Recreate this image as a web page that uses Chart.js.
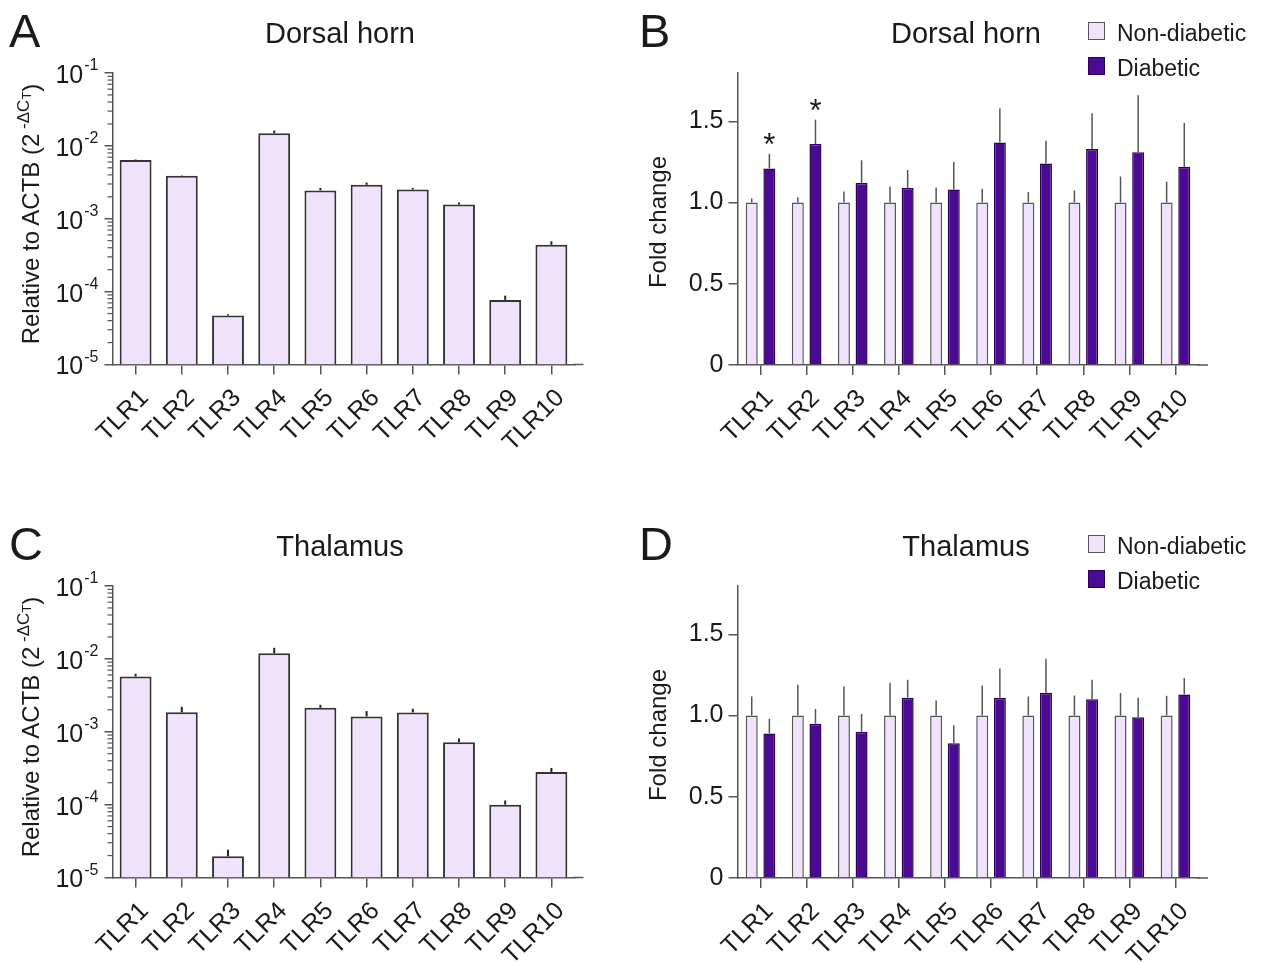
<!DOCTYPE html>
<html>
<head>
<meta charset="utf-8">
<title>TLR expression</title>
<script src="https://cdn.jsdelivr.net/npm/chart.js@4.4.1/dist/chart.umd.min.js"></script>
<style>
  html, body { margin: 0; padding: 0; background: #fff; overflow: hidden; }
  body { width: 1266px; height: 963px; position: relative; font-family: "Liberation Sans", Arial, sans-serif; color: #1a1a1a; }
  .panel { position: absolute; width: 636px; height: 480px; }
  .panel canvas { position: absolute; left: 0; top: 0; }
  .letter { position: absolute; font-size: 47px; line-height: 1; }
  .title { position: absolute; font-size: 29px; line-height: 1; white-space: nowrap; transform: translateX(-50%); }
  .ylab { position: absolute; font-size: 24px; line-height: 1; white-space: nowrap; transform: translate(-50%, -50%) rotate(-90deg); }
  .ylab .sup { font-size: 17px; position: relative; top: -10px; }
  .ylab .sub { font-size: 13px; position: relative; top: 2px; }
  .legend { position: absolute; font-size: 23px; line-height: 1; }
  .legend div { position: relative; height: 35px; padding-left: 29px; white-space: nowrap; }
  .legend i { position: absolute; left: 0; top: 0; width: 15px; height: 16px; border: 1.5px solid #555; }
</style>
</head>
<body>

<!-- A: dorsal horn, relative expression -->
<div class="panel" style="left:0;top:0">
  <canvas id="chartA" width="630" height="480"></canvas>
  <div class="letter" style="left:9px;top:7px">A</div>
  <div class="title" style="left:340px;top:19px">Dorsal horn</div>
  <div class="ylab" style="left:31px;top:214px">Relative to ACTB (2<span class="sup">&nbsp;-ΔC<span class="sub">T</span></span>)</div>
</div>

<!-- B: dorsal horn, fold change -->
<div class="panel" style="left:630px;top:0">
  <canvas id="chartB" width="636" height="480"></canvas>
  <div class="letter" style="left:9px;top:7px">B</div>
  <div class="title" style="left:336px;top:19px">Dorsal horn</div>
  <div class="ylab" style="left:28px;top:222px">Fold change</div>
  <div class="legend" style="left:458px;top:22px">
    <div><i style="background:#f0e2fb"></i>Non-diabetic</div>
    <div><i style="background:#4b0a92;border-color:#2a0058"></i>Diabetic</div>
  </div>
</div>

<!-- C: thalamus, relative expression -->
<div class="panel" style="left:0;top:513px">
  <canvas id="chartC" width="630" height="480"></canvas>
  <div class="letter" style="left:9px;top:7px">C</div>
  <div class="title" style="left:340px;top:19px">Thalamus</div>
  <div class="ylab" style="left:31px;top:214px">Relative to ACTB (2<span class="sup">&nbsp;-ΔC<span class="sub">T</span></span>)</div>
</div>

<!-- D: thalamus, fold change -->
<div class="panel" style="left:630px;top:513px">
  <canvas id="chartD" width="636" height="480"></canvas>
  <div class="letter" style="left:9px;top:7px">D</div>
  <div class="title" style="left:336px;top:19px">Thalamus</div>
  <div class="ylab" style="left:28px;top:222px">Fold change</div>
  <div class="legend" style="left:458px;top:22px">
    <div><i style="background:#f0e2fb"></i>Non-diabetic</div>
    <div><i style="background:#4b0a92;border-color:#2a0058"></i>Diabetic</div>
  </div>
</div>

<script>
const genes = ['TLR1', 'TLR2', 'TLR3', 'TLR4', 'TLR5', 'TLR6', 'TLR7', 'TLR8', 'TLR9', 'TLR10'];
const decadeTicks = [1e-5, 1e-4, 1e-3, 1e-2, 1e-1];
const foldTicks = [0, 0.5, 1.0, 1.5];

// A — dorsal horn, 2^-dCt relative to ACTB (mean, SEM)
const dhRel    = [6.4e-3, 3.9e-3, 4.7e-5, 1.49e-2, 2.45e-3, 2.92e-3, 2.52e-3, 1.57e-3, 7.7e-5, 4.4e-4];
const dhRelErr = [0.1e-3, 0.05e-3, 0.2e-5, 0.13e-2, 0.19e-3, 0.22e-3, 0.13e-3, 0.1e-3, 1.1e-5, 0.5e-4];

// C — thalamus
const thRel    = [5.74e-3, 1.85e-3, 1.95e-5, 1.19e-2, 2.13e-3, 1.62e-3, 1.84e-3, 7.2e-4, 1.0e-4, 2.81e-4];
const thRelErr = [0.5e-3, 0.35e-3, 0.45e-5, 0.23e-2, 0.21e-3, 0.3e-3, 0.23e-3, 0.9e-4, 0.14e-4, 0.38e-4];

// B — dorsal horn fold change
const dhNon    = [1, 1, 1, 1, 1, 1, 1, 1, 1, 1];
const dhNonErr = [0.025, 0.033, 0.068, 0.099, 0.093, 0.084, 0.064, 0.074, 0.16, 0.128];
const dhDia    = [1.21, 1.36, 1.12, 1.09, 1.08, 1.37, 1.24, 1.33, 1.31, 1.22];
const dhDiaErr = [0.09, 0.15, 0.14, 0.11, 0.17, 0.21, 0.14, 0.22, 0.35, 0.27];
const dhSig    = ['TLR1', 'TLR2'];

// D — thalamus fold change
const thNon    = [1, 1, 1, 1, 1, 1, 1, 1, 1, 1];
const thNonErr = [0.117, 0.189, 0.179, 0.202, 0.093, 0.185, 0.117, 0.123, 0.138, 0.121];
const thDia    = [0.89, 0.95, 0.9, 1.11, 0.83, 1.11, 1.14, 1.1, 0.99, 1.13];
const thDiaErr = [0.09, 0.09, 0.11, 0.11, 0.11, 0.18, 0.21, 0.12, 0.12, 0.1];

const LAV = '#f0e2fb';
const PURPLE = '#4b0a92';
const AXIS = '#555';
const TXT = '#1a1a1a';
const FONT = '"Liberation Sans", Arial, sans-serif';

Chart.defaults.font.family = FONT;
Chart.defaults.color = TXT;

// vertical SEM lines above each bar
const errorBars = {
  id: 'errorBars',
  afterDatasetsDraw(chart) {
    const ctx = chart.ctx, y = chart.scales.y;
    chart.data.datasets.forEach((ds, i) => {
      if (!ds.errors) return;
      chart.getDatasetMeta(i).data.forEach((bar, j) => {
        const top = y.getPixelForValue(ds.data[j] + ds.errors[j]);
        ctx.save();
        ctx.strokeStyle = ds.errorColor;
        ctx.lineWidth = ds.errorWidth;
        ctx.beginPath();
        ctx.moveTo(bar.x, bar.y);
        ctx.lineTo(bar.x, top);
        ctx.stroke();
        ctx.restore();
      });
    });
  }
};

// significance stars
const stars = {
  id: 'stars',
  afterDatasetsDraw(chart) {
    const ctx = chart.ctx, y = chart.scales.y;
    chart.data.datasets.forEach((ds, i) => {
      if (!ds.sig) return;
      chart.getDatasetMeta(i).data.forEach((bar, j) => {
        if (!ds.sig.includes(chart.data.labels[j])) return;
        const top = y.getPixelForValue(ds.data[j] + ds.errors[j]);
        ctx.save();
        ctx.fillStyle = TXT;
        ctx.font = '31px ' + FONT;
        ctx.textAlign = 'center';
        ctx.textBaseline = 'alphabetic';
        ctx.fillText('*', bar.x, top + 1);
        ctx.restore();
      });
    });
  }
};

// x axis runs a little past the last category, like the original
const axisTail = {
  id: 'axisTail',
  afterDraw(chart, args, opts) {
    const ctx = chart.ctx, a = chart.chartArea;
    ctx.save();
    ctx.strokeStyle = AXIS;
    ctx.lineWidth = 1.5;
    ctx.beginPath();
    ctx.moveTo(a.right - 1, a.bottom);
    ctx.lineTo(a.right + opts.length, a.bottom);
    ctx.stroke();
    ctx.restore();
  }
};

// 10^n labels and minor ticks for the log axis
const logAxis = {
  id: 'logAxis',
  afterDraw(chart) {
    const y = chart.scales.y;
    if (y.type !== 'logarithmic') return;
    const ctx = chart.ctx, x0 = chart.chartArea.left;
    ctx.save();
    ctx.strokeStyle = AXIS;
    ctx.lineWidth = 1.2;
    decadeTicks.slice(0, -1).forEach(d => {
      for (let k = 2; k <= 9; k++) {
        const py = y.getPixelForValue(k * d);
        ctx.beginPath();
        ctx.moveTo(x0 - 5, py);
        ctx.lineTo(x0, py);
        ctx.stroke();
      }
    });
    ctx.fillStyle = TXT;
    ctx.textBaseline = 'middle';
    ctx.textAlign = 'left';
    decadeTicks.forEach(d => {
      const py = y.getPixelForValue(d);
      const ex = '-' + Math.round(-Math.log10(d));
      ctx.font = '16px ' + FONT;
      const ew = ctx.measureText(ex).width;
      ctx.font = '25px ' + FONT;
      const bw = ctx.measureText('10').width;
      const right = x0 - 14;
      ctx.fillText('10', right - ew - bw - 1, py + 3);
      ctx.font = '16px ' + FONT;
      ctx.fillText(ex, right - ew, py - 7);
    });
    ctx.restore();
  }
};

function xScale(box) {
  return {
    type: 'category',
    offset: true,
    grid: { display: true, drawOnChartArea: false, drawTicks: true, tickLength: 10, offset: false, color: AXIS, lineWidth: 1.5 },
    border: { display: true, color: AXIS, width: 1.5 },
    ticks: { autoSkip: false, minRotation: 45, maxRotation: 45, padding: 9, labelOffset: 9, color: TXT, font: { size: 25 } },
    afterFit: s => { s.height = box.xh; s.paddingLeft = 0; s.paddingRight = 0; }
  };
}

function baseOptions(box, yScale) {
  return {
    responsive: false,
    animation: false,
    devicePixelRatio: 1,
    layout: { padding: { left: 0, top: box.top, right: box.right, bottom: 0 } },
    plugins: { legend: { display: false }, tooltip: { enabled: false }, axisTail: { length: box.tail } },
    scales: { x: xScale(box), y: yScale }
  };
}

function relChart(id, values, errs) {
  const box = { left: 112.5, top: 73, right: 55.5, xh: 115.5, tail: 9 };
  return new Chart(document.getElementById(id), {
    type: 'bar',
    data: {
      labels: genes,
      datasets: [{
        data: values, errors: errs, errorColor: '#222', errorWidth: 2,
        backgroundColor: LAV, borderColor: '#333', borderWidth: 2,
        categoryPercentage: 1, barPercentage: 0.69
      }]
    },
    options: baseOptions(box, {
      type: 'logarithmic',
      min: 1e-5,
      max: 1e-1,
      afterBuildTicks: s => { s.ticks = decadeTicks.map(v => ({ value: v })); },
      ticks: { display: false },
      grid: { display: true, drawOnChartArea: false, drawTicks: true, tickLength: 8, color: AXIS, lineWidth: 1.5 },
      border: { display: true, color: AXIS, width: 1.5 },
      afterFit: s => { s.width = box.left; s.paddingTop = 0; s.paddingBottom = 0; }
    }),
    plugins: [errorBars, axisTail, logAxis]
  });
}

function foldChart(id, non, nonErr, dia, diaErr, sig) {
  const box = { left: 107.5, top: 72.5, right: 67.5, xh: 115, tail: 9.5 };
  return new Chart(document.getElementById(id), {
    type: 'bar',
    data: {
      labels: genes,
      datasets: [
        {
          label: 'Non-diabetic', data: non, errors: nonErr, errorColor: '#555', errorWidth: 1.5,
          backgroundColor: LAV, borderColor: '#555', borderWidth: 1.5,
          categoryPercentage: 0.765, barPercentage: 0.68
        },
        {
          label: 'Diabetic', data: dia, errors: diaErr, errorColor: '#555', errorWidth: 1.5, sig: sig,
          backgroundColor: PURPLE, borderColor: '#2a0058', borderWidth: 1.5,
          categoryPercentage: 0.765, barPercentage: 0.68
        }
      ]
    },
    options: baseOptions(box, {
      type: 'linear',
      min: 0,
      max: 1.8,
      afterBuildTicks: s => { s.ticks = foldTicks.map(v => ({ value: v })); },
      ticks: { padding: 5, color: TXT, font: { size: 25 }, callback: v => v === 0 ? '0' : v.toFixed(1) },
      grid: { display: true, drawOnChartArea: false, drawTicks: true, tickLength: 9, color: AXIS, lineWidth: 1.5 },
      border: { display: true, color: AXIS, width: 1.5 },
      afterFit: s => { s.width = box.left; s.paddingTop = 0; s.paddingBottom = 0; }
    }),
    plugins: [errorBars, stars, axisTail]
  });
}

relChart('chartA', dhRel, dhRelErr);
foldChart('chartB', dhNon, dhNonErr, dhDia, dhDiaErr, dhSig);
relChart('chartC', thRel, thRelErr);
foldChart('chartD', thNon, thNonErr, thDia, thDiaErr, []);
</script>
</body>
</html>
